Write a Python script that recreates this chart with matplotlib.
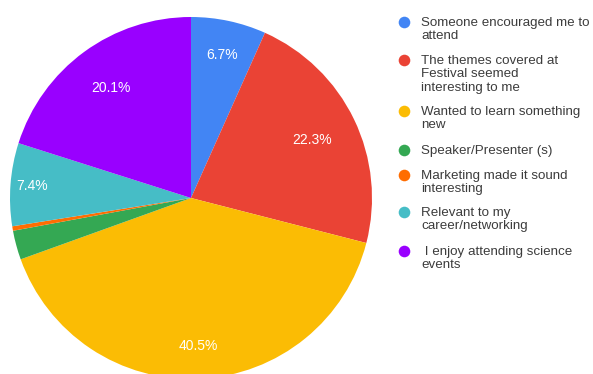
import numpy as np
import matplotlib.pyplot as plt

plt.rcParams['font.family'] = ['Liberation Sans', 'DejaVu Sans']

# answers to "why did you come to the festival"
labels = ['Someone encouraged me to\nattend',
          'The themes covered at\nFestival seemed\ninteresting to me',
          'Wanted to learn something\nnew',
          'Speaker/Presenter (s)',
          'Marketing made it sound\ninteresting',
          'Relevant to my\ncareer/networking',
          ' I enjoy attending science\nevents']
shares = [6.7, 22.3, 40.5, 2.6, 0.4, 7.4, 20.1]
colors = ['#4285F4', '#EA4335', '#FBBC04', '#34A853', '#FF6D01', '#46BDC6', '#9900FF']

cx, cy, r = 191, 176, 181

fig = plt.figure(figsize=(5.93, 3.74), dpi=100)
ax = fig.add_axes([0, 0, 1, 1])

wedges, _ = ax.pie(shares, colors=colors, startangle=90, counterclock=False,
                   center=(cx, cy), radius=r, wedgeprops=dict(linewidth=0))

# percentage labels, each pushed a bit in or out along the slice middle
label_dist = [0.81, 0.74, 0.82, 0.8, 0.8, 0.88, 0.75]
for w, p, d in zip(wedges, shares, label_dist):
    if p < 5:
        continue
    mid = np.deg2rad((w.theta1 + w.theta2) / 2)
    ax.text(cx + d * r * np.cos(mid), cy + d * r * np.sin(mid), '%.1f%%' % p,
            color='white', fontsize=10, ha='center', va='center')

# legend drawn by hand: dot + wrapped label
legend_y = [352, 314, 263, 224, 199, 162, 123]
for lab, col, y in zip(labels, colors, legend_y):
    ax.scatter([404], [y], s=70, color=col, linewidths=0)
    ax.text(421, y + 5.5, lab, fontsize=9.6, color='#3c3c3c', va='top', ha='left', linespacing=1.22)

ax.set_xlim(0, 593)
ax.set_ylim(0, 374)
ax.set_aspect('equal')
ax.axis('off')

fig.savefig('out.png', dpi=100)
